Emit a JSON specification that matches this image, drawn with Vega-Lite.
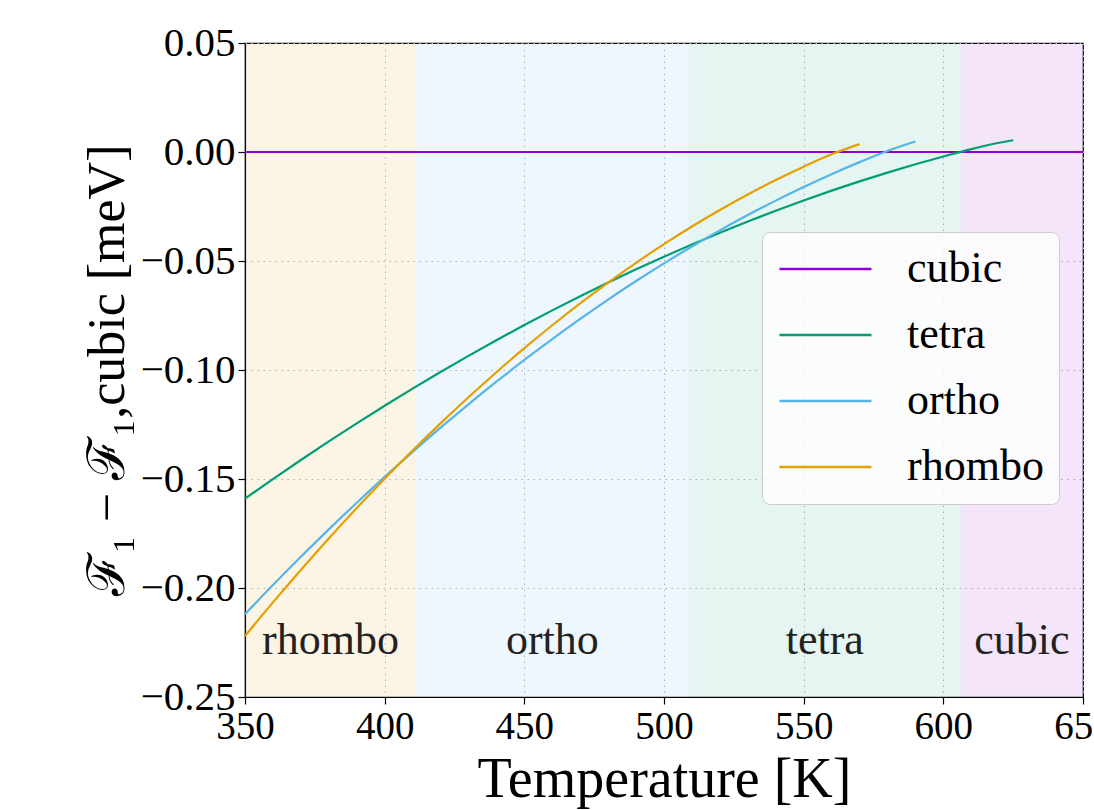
{
  "$schema": "https://vega.github.io/schema/vega-lite/v6.json",
  "width": 838,
  "height": 654,
  "autosize": "none",
  "padding": {"left": 245, "top": 43, "right": 11, "bottom": 113},
  "background": "white",
  "config": {
    "font": "Liberation Serif",
    "view": {"stroke": "black", "strokeWidth": 1.2},
    "axis": {
      "labelFont": "Liberation Serif",
      "titleFont": "Liberation Serif",
      "labelColor": "black",
      "titleColor": "black",
      "labelFontSize": 39,
      "titleFontSize": 52,
      "titleFontWeight": "normal",
      "tickColor": "black",
      "tickSize": 7,
      "tickWidth": 1.2,
      "domainColor": "black",
      "domainWidth": 1.2,
      "gridColor": "#b0b0b0",
      "gridDash": [1.5, 4.5],
      "gridWidth": 1,
      "labelPadding": 3,
      "labelFlush": false,
      "labelOverlap": false
    }
  },
  "datasets": {
    "bands": [
      {"phase": "rhombo", "t0": 350, "t1": 411.2, "mid": 380.6, "ylab": -0.2245},
      {"phase": "ortho", "t0": 411.2, "t1": 508.9, "mid": 460.05, "ylab": -0.2245},
      {"phase": "tetra", "t0": 508.9, "t1": 606.2, "mid": 557.55, "ylab": -0.2245},
      {"phase": "cubic", "t0": 606.2, "t1": 650, "mid": 628.1, "ylab": -0.2245}
    ],
    "curves": [
      {"phase": "cubic", "T": 350, "dF": 0},
      {"phase": "cubic", "T": 650, "dF": 0},
      {"phase": "tetra", "T": 350, "dF": -0.159},
      {"phase": "tetra", "T": 360, "dF": -0.15003},
      {"phase": "tetra", "T": 370, "dF": -0.14128},
      {"phase": "tetra", "T": 380, "dF": -0.13276},
      {"phase": "tetra", "T": 390, "dF": -0.12446},
      {"phase": "tetra", "T": 400, "dF": -0.11639},
      {"phase": "tetra", "T": 410, "dF": -0.10854},
      {"phase": "tetra", "T": 420, "dF": -0.10092},
      {"phase": "tetra", "T": 430, "dF": -0.09352},
      {"phase": "tetra", "T": 440, "dF": -0.08634},
      {"phase": "tetra", "T": 450, "dF": -0.07939},
      {"phase": "tetra", "T": 460, "dF": -0.07266},
      {"phase": "tetra", "T": 470, "dF": -0.06616},
      {"phase": "tetra", "T": 480, "dF": -0.05988},
      {"phase": "tetra", "T": 490, "dF": -0.05383},
      {"phase": "tetra", "T": 500, "dF": -0.048},
      {"phase": "tetra", "T": 510, "dF": -0.0424},
      {"phase": "tetra", "T": 520, "dF": -0.03701},
      {"phase": "tetra", "T": 530, "dF": -0.03186},
      {"phase": "tetra", "T": 540, "dF": -0.02693},
      {"phase": "tetra", "T": 550, "dF": -0.02222},
      {"phase": "tetra", "T": 560, "dF": -0.01773},
      {"phase": "tetra", "T": 570, "dF": -0.01348},
      {"phase": "tetra", "T": 580, "dF": -0.00944},
      {"phase": "tetra", "T": 590, "dF": -0.00563},
      {"phase": "tetra", "T": 600, "dF": -0.00205},
      {"phase": "tetra", "T": 610, "dF": 0.00132},
      {"phase": "tetra", "T": 620, "dF": 0.00425},
      {"phase": "tetra", "T": 625, "dF": 0.0054},
      {"phase": "ortho", "T": 350, "dF": -0.212},
      {"phase": "ortho", "T": 360, "dF": -0.19866},
      {"phase": "ortho", "T": 370, "dF": -0.1857},
      {"phase": "ortho", "T": 380, "dF": -0.17311},
      {"phase": "ortho", "T": 390, "dF": -0.16089},
      {"phase": "ortho", "T": 400, "dF": -0.14904},
      {"phase": "ortho", "T": 410, "dF": -0.13757},
      {"phase": "ortho", "T": 420, "dF": -0.12647},
      {"phase": "ortho", "T": 430, "dF": -0.11574},
      {"phase": "ortho", "T": 440, "dF": -0.10538},
      {"phase": "ortho", "T": 450, "dF": -0.0954},
      {"phase": "ortho", "T": 460, "dF": -0.08579},
      {"phase": "ortho", "T": 470, "dF": -0.07655},
      {"phase": "ortho", "T": 480, "dF": -0.06768},
      {"phase": "ortho", "T": 490, "dF": -0.05919},
      {"phase": "ortho", "T": 500, "dF": -0.05107},
      {"phase": "ortho", "T": 510, "dF": -0.04332},
      {"phase": "ortho", "T": 520, "dF": -0.03594},
      {"phase": "ortho", "T": 530, "dF": -0.02894},
      {"phase": "ortho", "T": 540, "dF": -0.02231},
      {"phase": "ortho", "T": 550, "dF": -0.01605},
      {"phase": "ortho", "T": 560, "dF": -0.01016},
      {"phase": "ortho", "T": 570, "dF": -0.00464},
      {"phase": "ortho", "T": 580, "dF": 0.0005},
      {"phase": "ortho", "T": 590, "dF": 0.0048},
      {"phase": "rhombo", "T": 350, "dF": -0.222},
      {"phase": "rhombo", "T": 360, "dF": -0.20661},
      {"phase": "rhombo", "T": 370, "dF": -0.1917},
      {"phase": "rhombo", "T": 380, "dF": -0.17728},
      {"phase": "rhombo", "T": 390, "dF": -0.16335},
      {"phase": "rhombo", "T": 400, "dF": -0.14991},
      {"phase": "rhombo", "T": 410, "dF": -0.13695},
      {"phase": "rhombo", "T": 420, "dF": -0.12448},
      {"phase": "rhombo", "T": 430, "dF": -0.1125},
      {"phase": "rhombo", "T": 440, "dF": -0.10101},
      {"phase": "rhombo", "T": 450, "dF": -0.09},
      {"phase": "rhombo", "T": 460, "dF": -0.07948},
      {"phase": "rhombo", "T": 470, "dF": -0.06945},
      {"phase": "rhombo", "T": 480, "dF": -0.0599},
      {"phase": "rhombo", "T": 490, "dF": -0.05084},
      {"phase": "rhombo", "T": 500, "dF": -0.04227},
      {"phase": "rhombo", "T": 510, "dF": -0.03419},
      {"phase": "rhombo", "T": 520, "dF": -0.02659},
      {"phase": "rhombo", "T": 530, "dF": -0.01948},
      {"phase": "rhombo", "T": 540, "dF": -0.01286},
      {"phase": "rhombo", "T": 550, "dF": -0.00672},
      {"phase": "rhombo", "T": 560, "dF": -0.00107},
      {"phase": "rhombo", "T": 570, "dF": 0.0036}
    ]
  },
  "layer": [
    {
      "data": {"name": "bands"},
      "mark": {"type": "rect", "opacity": 0.1},
      "encoding": {
        "x": {
          "field": "t0", "type": "quantitative",
          "scale": {"domain": [350, 650], "nice": false, "zero": false},
          "axis": {
            "title": "Temperature [K]",
            "titleFontSize": 56,
            "values": [350, 400, 450, 500, 550, 600, 650],
            "format": "d",
            "grid": true,
            "titlePadding": 6
          }
        },
        "x2": {"field": "t1"},
        "y": {"datum": -0.25, "type": "quantitative"},
        "y2": {"datum": 0.05},
        "fill": {
          "field": "phase", "type": "nominal",
          "scale": {"domain": ["rhombo", "ortho", "tetra", "cubic"], "range": ["#E69F00", "#56B4E9", "#009E73", "#9400D3"]},
          "legend": null
        }
      }
    },
    {
      "data": {"name": "bands"},
      "mark": {"type": "text", "font": "Liberation Serif", "fontSize": 44, "color": "#222222", "align": "center", "baseline": "middle"},
      "encoding": {
        "x": {"field": "mid", "type": "quantitative"},
        "y": {"field": "ylab", "type": "quantitative"},
        "text": {"field": "phase"}
      }
    },
    {
      "data": {"name": "curves"},
      "mark": {"type": "line", "strokeWidth": 2.2, "interpolate": "monotone"},
      "encoding": {
        "x": {"field": "T", "type": "quantitative"},
        "y": {
          "field": "dF", "type": "quantitative",
          "scale": {"domain": [-0.25, 0.05], "nice": false, "zero": false},
          "axis": {
            "title": "ℱ₁ − ℱ₁,cubic [meV]",
            "values": [-0.25, -0.2, -0.15, -0.1, -0.05, 0, 0.05],
            "labelExpr": "replace(format(datum.value, '.2f'), '-', '−')",
            "labelFontSize": 41,
            "grid": true,
            "titlePadding": 6
          }
        },
        "color": {
          "field": "phase", "type": "nominal",
          "scale": {"domain": ["cubic", "tetra", "ortho", "rhombo"], "range": ["#9400D3", "#009E73", "#56B4E9", "#E69F00"]},
          "legend": {
            "title": null,
            "orient": "none",
            "legendX": 517,
            "legendY": 189,
            "fillColor": "rgba(255,255,255,0.8)",
            "strokeColor": "#cccccc",
            "cornerRadius": 8,
            "padding": 15,
            "symbolType": "M-1.7,0H6.3",
            "symbolSize": 529,
            "symbolStrokeWidth": 2.5,
            "symbolFillColor": "transparent",
            "labelFont": "Liberation Serif",
            "labelFontSize": 44,
            "labelColor": "black",
            "labelOffset": 86,
            "rowPadding": 22,
            "labelLimit": 300
          }
        }
      }
    }
  ]
}
